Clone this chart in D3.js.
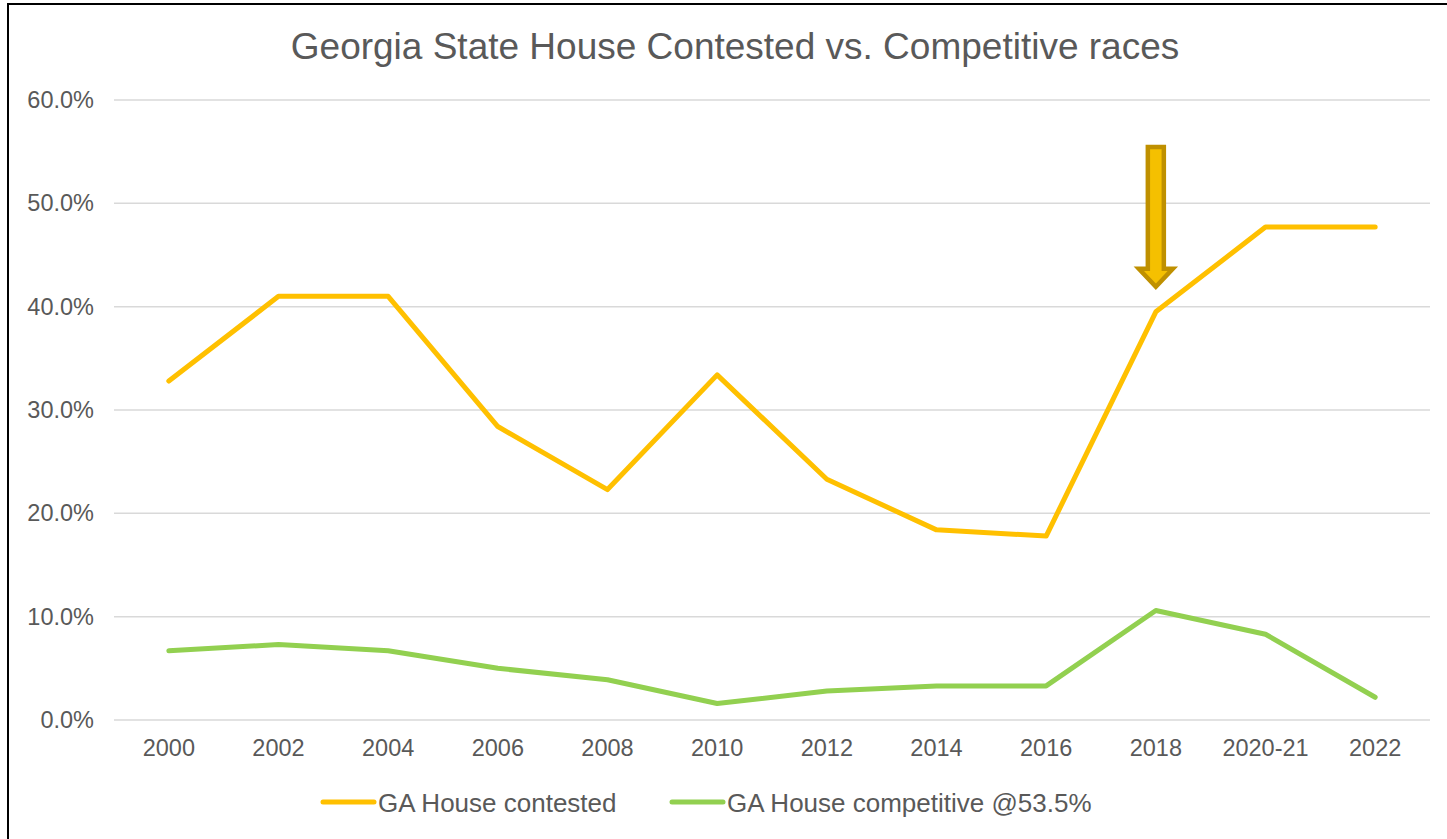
<!DOCTYPE html>
<html>
<head>
<meta charset="utf-8">
<script src="https://cdn.jsdelivr.net/npm/d3@7"></script>
<style>
  body { margin: 0; background: #fff; }
  svg { display: block; font-family: "Liberation Sans", Arial, sans-serif; }
</style>
</head>
<body>
<svg id="chart" width="1447" height="839"></svg>
<script>
// Data
var years = ["2000", "2002", "2004", "2006", "2008", "2010", "2012", "2014", "2016", "2018", "2020-21", "2022"];
var contested = [32.8, 41.0, 41.0, 28.4, 22.3, 33.4, 23.3, 18.4, 17.8, 39.5, 47.7, 47.7];
var competitive = [6.7, 7.3, 6.7, 5.0, 3.9, 1.6, 2.8, 3.3, 3.3, 10.6, 8.3, 2.2];
var yTicks = [0, 10, 20, 30, 40, 50, 60];
var seriesNames = ["GA House contested", "GA House competitive @53.5%"];
var seriesColors = ["#FFC000", "#92D050"];

function drawChart() {
    var svg = d3.select("svg"),
        plotLeft = 114, plotRight = 1430, plotTop = 100, plotBottom = 720;

    // outer border
    svg.append("rect")
        .attr("x", 8).attr("y", 4)
        .attr("width", 1460).attr("height", 860)
        .attr("fill", "none").attr("stroke", "#000").attr("stroke-width", 2);

    svg.append("text")
        .attr("x", 735).attr("y", 59)
        .attr("text-anchor", "middle")
        .attr("fill", "#595959")
        .attr("font-size", "37px")
        .text("Georgia State House Contested vs. Competitive races");

    var x = d3.scalePoint()
        .domain(years)
        .range([plotLeft, plotRight])
        .padding(0.5);
    var y = d3.scaleLinear()
        .domain([0, 60])
        .range([plotBottom, plotTop]);

    // gridlines
    svg.append("g")
        .selectAll("line")
        .data(yTicks)
        .enter().append("line")
        .attr("x1", plotLeft).attr("x2", plotRight)
        .attr("y1", function (d) { return y(d); })
        .attr("y2", function (d) { return y(d); })
        .attr("stroke", "#d9d9d9")
        .attr("stroke-width", 1.5);

    // y labels
    svg.append("g")
        .selectAll("text")
        .data(yTicks)
        .enter().append("text")
        .attr("x", 94)
        .attr("y", function (d) { return y(d) + 8; })
        .attr("text-anchor", "end")
        .attr("fill", "#595959")
        .attr("font-size", "23.5px")
        .text(function (d) { return d.toFixed(1) + "%"; });

    // x labels
    svg.append("g")
        .selectAll("text")
        .data(years)
        .enter().append("text")
        .attr("x", function (d) { return x(d); })
        .attr("y", 756)
        .attr("text-anchor", "middle")
        .attr("fill", "#595959")
        .attr("font-size", "23.5px")
        .text(function (d) { return d; });

    var line = d3.line()
        .x(function (d, i) { return x(years[i]); })
        .y(function (d) { return y(d); });

    [contested, competitive].forEach(function (s, k) {
        svg.append("path")
            .datum(s)
            .attr("d", line)
            .attr("fill", "none")
            .attr("stroke", seriesColors[k])
            .attr("stroke-width", 5)
            .attr("stroke-linejoin", "round")
            .attr("stroke-linecap", "round");
    });

    // annotation arrow pointing at 2018
    var ax = x("2018"), tipY = y(contested[9]) - 25;
    var arrow = d3.path();
    arrow.moveTo(ax - 8, 147);
    arrow.lineTo(ax + 8, 147);
    arrow.lineTo(ax + 8, tipY - 18);
    arrow.lineTo(ax + 17, tipY - 18);
    arrow.lineTo(ax, tipY);
    arrow.lineTo(ax - 17, tipY - 18);
    arrow.lineTo(ax - 8, tipY - 18);
    arrow.closePath();
    svg.append("path")
        .attr("d", arrow.toString())
        .attr("fill", "#F5C000")
        .attr("stroke", "#BF9000")
        .attr("stroke-width", 4.5)
        .attr("stroke-linejoin", "miter");

    // legend
    var legX = [323, 672];
    seriesNames.forEach(function (name, i) {
        svg.append("line")
            .attr("x1", legX[i]).attr("x2", legX[i] + 51)
            .attr("y1", 802).attr("y2", 802)
            .attr("stroke", seriesColors[i])
            .attr("stroke-width", 5)
            .attr("stroke-linecap", "round");
        svg.append("text")
            .attr("x", legX[i] + 55)
            .attr("y", 812)
            .attr("fill", "#595959")
            .attr("font-size", "26px")
            .text(name);
    });
}

drawChart();
</script>
</body>
</html>
